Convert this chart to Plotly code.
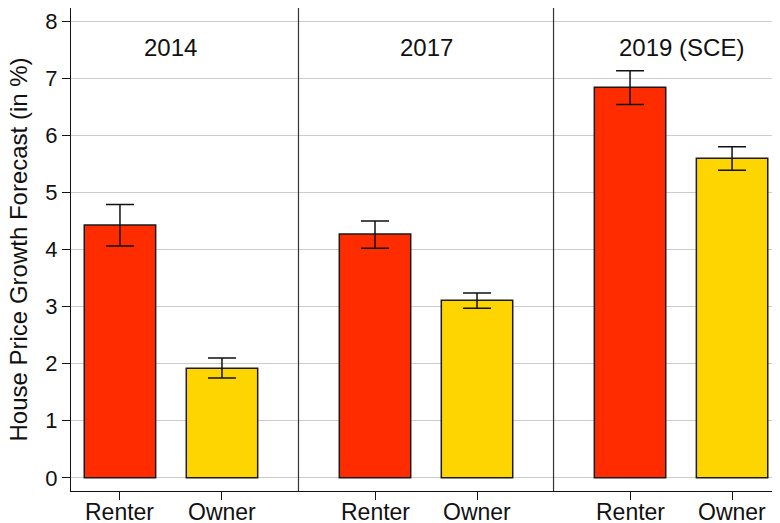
import plotly.graph_objects as go

groups = ["2014", "2017", "2019 (SCE)"]
categories = ["Renter", "Owner"]
renter_vals = [4.43, 4.27, 6.84]
renter_hi = [4.79, 4.50, 7.13]
renter_lo = [4.06, 4.02, 6.54]
owner_vals = [1.92, 3.11, 5.60]
owner_hi = [2.10, 3.24, 5.80]
owner_lo = [1.75, 2.97, 5.39]
y_ticks = [0, 1, 2, 3, 4, 5, 6, 7, 8]
y_title = "House Price Growth Forecast (in %)"

gap = 2.5
renter_x = [i * gap for i in range(len(groups))]
owner_x = [i * gap + 1 for i in range(len(groups))]

RED = "rgb(255,44,0)"
GOLD = "rgb(255,213,0)"
EDGE = "#1a1a1a"
FONT = "Liberation Sans, Arial, sans-serif"

fig = go.Figure()
fig.add_trace(go.Bar(
    x=renter_x, y=renter_vals, width=0.7, name="Renter",
    marker=dict(color=RED, line=dict(color=EDGE, width=1.5)),
    error_y=dict(type="data", symmetric=False,
                 array=[h - v for h, v in zip(renter_hi, renter_vals)],
                 arrayminus=[v - l for l, v in zip(renter_lo, renter_vals)],
                 color="#111", thickness=1.5, width=14),
))
fig.add_trace(go.Bar(
    x=owner_x, y=owner_vals, width=0.7, name="Owner",
    marker=dict(color=GOLD, line=dict(color=EDGE, width=1.5)),
    error_y=dict(type="data", symmetric=False,
                 array=[h - v for h, v in zip(owner_hi, owner_vals)],
                 arrayminus=[v - l for l, v in zip(owner_lo, owner_vals)],
                 color="#111", thickness=1.5, width=14),
))

# separators between groups
for i in range(len(groups) - 1):
    sx = i * gap + 1 + (gap - 1) / 2
    fig.add_shape(type="line", xref="x", yref="paper", x0=sx, x1=sx, y0=0, y1=1,
                  line=dict(color="#333", width=1.2))

# group titles
for i, g in enumerate(groups):
    fig.add_annotation(x=i * gap + 0.5, y=7.53, xref="x", yref="y", text=g,
                       showarrow=False, font=dict(size=24, color="#111"))

tickvals = []
ticktext = []
for i in range(len(groups)):
    tickvals += [i * gap, i * gap + 1]
    ticktext += categories

# x tick labels
for tv, tt in zip(tickvals, ticktext):
    fig.add_annotation(x=tv, y=0, xref="x", yref="paper", text=tt,
                       showarrow=False, xanchor="center", yanchor="top",
                       yshift=-6, font=dict(size=23, color="#111"))

# y axis title
fig.add_annotation(x=0, y=0.5, xref="paper", yref="paper", text=y_title,
                   textangle=-90, showarrow=False, xanchor="center",
                   yanchor="middle", xshift=-53, font=dict(size=24, color="#111"))

fig.update_layout(
    width=772, height=515,
    margin=dict(l=63, r=0, t=0, b=32, autoexpand=False),
    paper_bgcolor="white", plot_bgcolor="white",
    showlegend=False,
    font=dict(family=FONT, size=23, color="#111"),
    xaxis=dict(range=[-0.48, 6.47], tickvals=tickvals, showticklabels=False,
               showgrid=False, zeroline=False, showline=True, linecolor="#111",
               linewidth=1.2, ticks="outside", ticklen=8, tickcolor="#111",
               automargin=False),
    yaxis=dict(range=[-0.23, 8.23], tickvals=y_ticks, showgrid=True,
               gridcolor="#cccccc", gridwidth=1.2, zeroline=False,
               showline=True, linecolor="#111", linewidth=1.2,
               ticks="outside", ticklen=8, tickcolor="#111",
               tickfont=dict(size=22), automargin=False),
)

fig.write_html("out.html")
